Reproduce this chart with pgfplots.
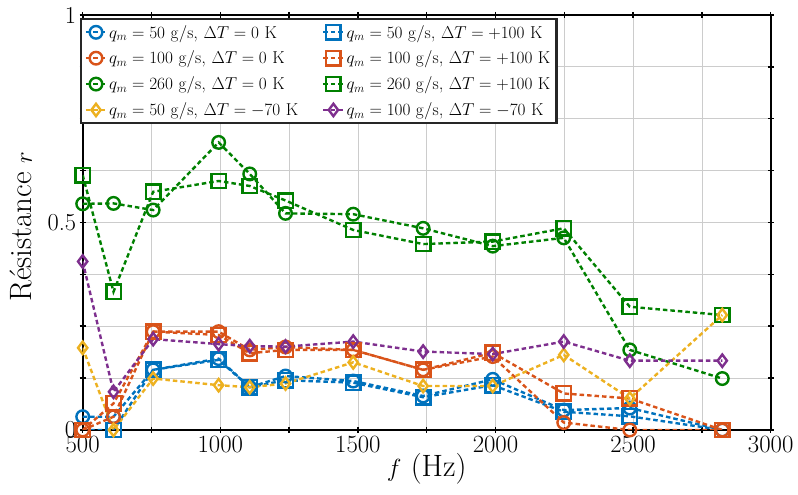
\documentclass[border=0pt]{standalone}
\usepackage{pgfplots}
\pgfplotsset{compat=1.18}
\definecolor{mblue}{rgb}{0,0.447,0.741}
\definecolor{morange}{rgb}{0.85,0.325,0.098}
\definecolor{myellow}{rgb}{0.929,0.694,0.125}
\definecolor{mpurple}{rgb}{0.494,0.184,0.556}
\definecolor{mgreen}{rgb}{0,0.5,0}
\begin{document}
\begin{tikzpicture}
\begin{axis}[
  scale only axis, width=688bp, height=415bp,
  xmin=500, xmax=3000, ymin=0, ymax=1,
  xtick={500,1000,...,3000}, minor xtick={750,1250,1750,2250,2750},
  ytick={0,0.5,1}, yticklabels={0,0.5,1},
  minor ytick={0.125,0.25,0.375,0.625,0.75,0.875},
  grid=both,
  major grid style={black!20, line width=0.8bp},
  minor grid style={black!20, line width=0.8bp},
  axis line style={line width=2bp, black},
  tick align=center, major tick length=6bp, minor tick length=6bp,
  every tick/.style={black, line width=1.5bp},
  tick label style={font=\fontsize{24.5}{28}\selectfont},
  scaled ticks=false,
  xticklabel style={/pgf/number format/1000 sep={}},
  every axis x label/.style={at={(rel axis cs:0.5,0)}, anchor=base, yshift=-46bp, font=\fontsize{31}{36}\selectfont},
  every axis y label/.style={at={(rel axis cs:0,0.49)}, xshift=-50.7bp, rotate=90, anchor=base, font=\fontsize{31}{36}\selectfont},
  xlabel={$f$ (Hz)}, ylabel={Résistance $r$},
  legend columns=2,
  legend cell align=left,
  legend style={at={(rel axis cs:0,1)}, anchor=north west, xshift=-3bp, yshift=-3bp,
    draw=black!85, line width=2.2bp, fill=white,
    font=\fontsize{18.5}{21}\selectfont,
    /tikz/every even column/.append style={column sep=22bp},
    row sep=7.5bp, inner sep=4bp},
  legend image code/.code={\draw[mark repeat=2,mark phase=2] plot coordinates {(0bp,0bp) (10bp,0bp) (20bp,0bp)};},
  every axis plot/.append style={line width=2.4bp, dash pattern=on 4.5bp off 3bp},
  clip marker paths=false,
]
\coordinate (O) at (rel axis cs:0,0);
% q50 0K
\addplot[mblue, mark=o, mark size=6.3bp, mark options={solid}] coordinates {
(500,0.032) (612,0.032) (756,0.145) (994,0.172) (1107,0.103) (1237,0.130) (1483,0.118) (1737,0.082) (1990,0.122) (2248,0.048) (2488,0.053) (2824,0.0)};
\addlegendentry{$q_m = 50~\mathrm{g/s}$, $\Delta T = 0~\mathrm{K}$}
% q50 +100K
\addplot[mblue, mark=square, mark size=7.2bp, mark options={solid}] coordinates {
(500,0.0) (612,0.0) (756,0.145) (994,0.169) (1107,0.103) (1237,0.120) (1483,0.114) (1737,0.079) (1990,0.108) (2248,0.044) (2488,0.033) (2824,0.0)};
\addlegendentry{$q_m = 50~\mathrm{g/s}$, $\Delta T = +100~\mathrm{K}$}
% q100 0K
\addplot[morange, mark=o, mark size=6.3bp, mark options={solid}] coordinates {
(500,0.0) (612,0.032) (756,0.237) (994,0.237) (1107,0.193) (1237,0.200) (1483,0.193) (1737,0.145) (1990,0.177) (2248,0.018) (2488,0.0) (2824,0.0)};
\addlegendentry{$q_m = 100~\mathrm{g/s}$, $\Delta T = 0~\mathrm{K}$}
% q100 +100K
\addplot[morange, mark=square, mark size=7.2bp, mark options={solid}] coordinates {
(500,0.0) (612,0.064) (756,0.237) (994,0.229) (1107,0.185) (1237,0.193) (1483,0.193) (1737,0.145) (1990,0.186) (2248,0.088) (2488,0.076) (2824,0.0)};
\addlegendentry{$q_m = 100~\mathrm{g/s}$, $\Delta T = +100~\mathrm{K}$}
% q260 0K
\addplot[mgreen, mark=o, mark size=6.3bp, mark options={solid}] coordinates {
(500,0.545) (612,0.546) (756,0.530) (994,0.693) (1107,0.617) (1237,0.522) (1483,0.520) (1737,0.486) (1990,0.443) (2248,0.463) (2488,0.193) (2824,0.124)};
\addlegendentry{$q_m = 260~\mathrm{g/s}$, $\Delta T = 0~\mathrm{K}$}
% q260 +100K
\addplot[mgreen, mark=square, mark size=7.2bp, mark options={solid}] coordinates {
(500,0.614) (612,0.333) (756,0.574) (994,0.600) (1107,0.588) (1237,0.553) (1483,0.482) (1737,0.448) (1990,0.454) (2248,0.486) (2488,0.297) (2824,0.277)};
\addlegendentry{$q_m = 260~\mathrm{g/s}$, $\Delta T = +100~\mathrm{K}$}
% q50 -70K
\addplot[myellow, mark=diamond, mark size=6.2bp, mark options={solid}] coordinates {
(500,0.198) (612,0.0) (756,0.124) (994,0.108) (1107,0.103) (1237,0.112) (1483,0.163) (1737,0.106) (1990,0.106) (2248,0.181) (2488,0.076) (2824,0.277)};
\addlegendentry{$q_m = 50~\mathrm{g/s}$, $\Delta T = -70~\mathrm{K}$}
% q100 -70K
\addplot[mpurple, mark=diamond, mark size=6.2bp, mark options={solid}] coordinates {
(500,0.406) (612,0.092) (756,0.219) (994,0.207) (1107,0.202) (1237,0.201) (1483,0.213) (1737,0.189) (1990,0.183) (2248,0.213) (2488,0.167) (2824,0.167)};
\addlegendentry{$q_m = 100~\mathrm{g/s}$, $\Delta T = -70~\mathrm{K}$}
\end{axis}
\pgfresetboundingbox
\path ([shift={(-82.7bp,-65bp)}]O) rectangle ++(798bp,495bp);
\end{tikzpicture}
\end{document}
